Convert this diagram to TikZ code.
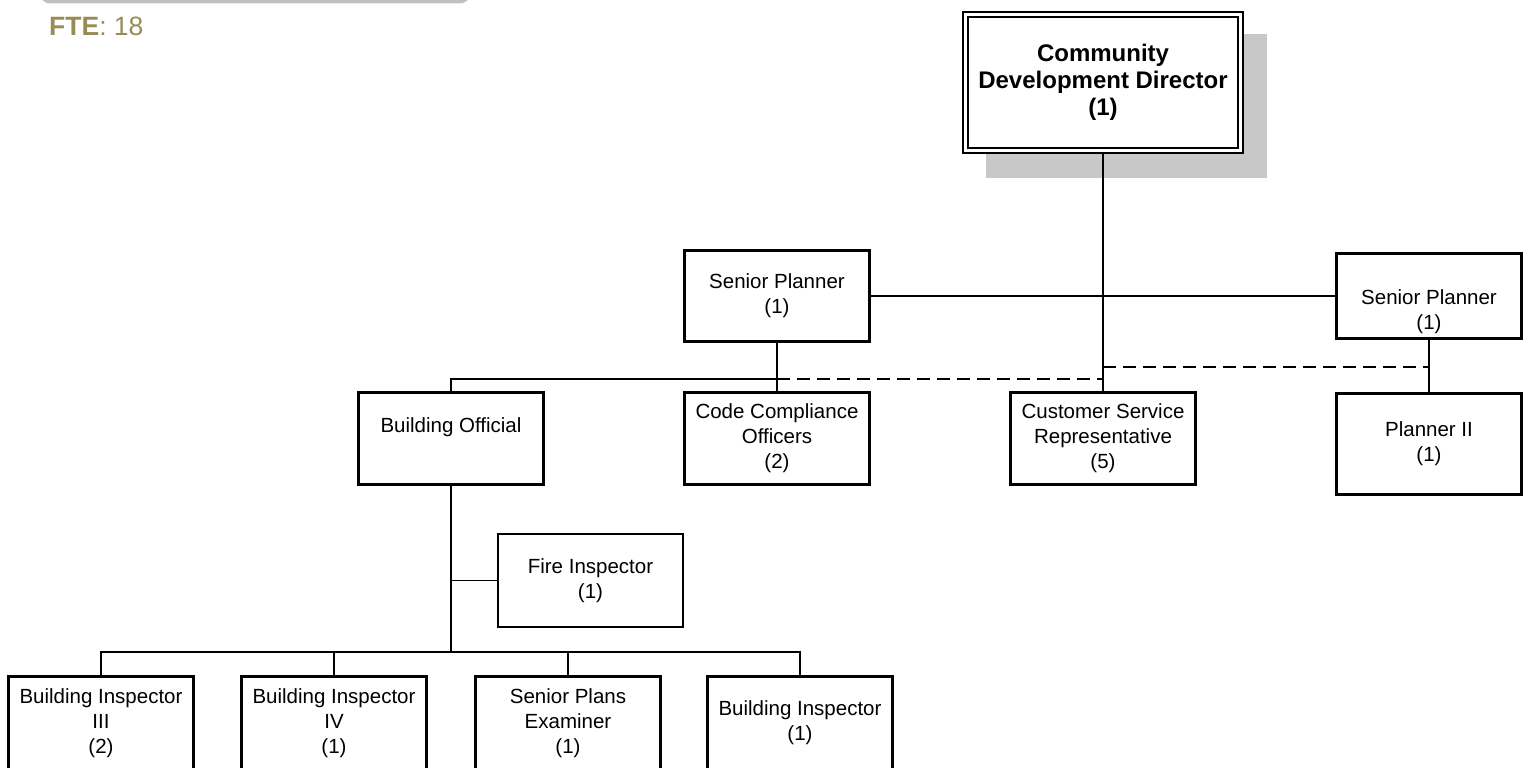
\documentclass[tikz,border=0pt]{standalone}
\usepackage{fontspec}
\setmainfont{Liberation Sans}
\definecolor{fte}{RGB}{152,140,84}
\definecolor{shadowgray}{RGB}{200,200,200}
\definecolor{bargray}{RGB}{192,192,192}
\begin{document}
\begin{tikzpicture}[x=1pt,y=-1pt,
  box/.style={draw, line width=2.6pt, rectangle, fill=white, minimum width=185.5pt, minimum height=92.5pt, inner sep=0pt, align=center, font=\fontsize{20.5}{25}\selectfont},
  thinbox/.style={box, line width=1.6pt},
  dirbox/.style={draw, double, line width=1.8pt, double distance=3pt, rectangle, fill=white, minimum width=275.4pt, minimum height=136.4pt, inner sep=0pt, align=center, font=\fontsize{24}{27}\selectfont\bfseries},
  txt/.style={align=center, inner sep=0pt, font=\fontsize{20.5}{25}\selectfont},
  conn/.style={line width=1.9pt},
  dconn/.style={line width=1.9pt, dash pattern=on 13pt off 7pt}]
\useasboundingbox (0,0) rectangle (1531,768);
\begin{scope}
\clip (0,0) rectangle (1531,768);
% top gray bar
\fill[bargray, rounded corners=10pt] (40,-30) rectangle (470,3.5);
% FTE
\node[anchor=base west, text=fte, font=\fontsize{26.5}{30}\selectfont, inner sep=0pt] (fte) at (49,35.5) {\textbf{FTE}: 18};
% director with shadow
\fill[shadowgray] (986,34) rectangle (1267,178);
\node[dirbox] (dir) at (1103,82.5) {Community\\Development Director\\(1)};
% second row
\node[box, minimum height=91.5pt] (spl) at (777,296) {Senior Planner\\(1)};
\node[box, minimum height=85pt] (spr) at (1429,296) {};
\node[txt] (sprt) at (1429,312) {Senior Planner\\(1)};
% third row
\node[box] (bo) at (451,438.5) {};
\node[txt, anchor=base] (bot) at (451,432) {Building Official};
\node[box] (cc) at (777,438.5) {Code Compliance\\Officers\\(2)};
\node[box] (cs) at (1103,438.5) {Customer Service\\Representative\\(5)};
\node[box, minimum height=101.5pt] (p2) at (1429,444) {Planner II\\(1)};
% fire inspector
\node[thinbox, minimum height=93.5pt] (fi) at (590.5,580.5) {Fire Inspector\\(1)};
% bottom row
\node[box, minimum height=93pt] (bi3) at (101,723) {Building Inspector\\III\\(2)};
\node[box, minimum height=93pt] (bi4) at (334,723) {Building Inspector\\IV\\(1)};
\node[box, minimum height=93pt] (spe) at (568,723) {Senior Plans\\Examiner\\(1)};
\node[box, minimum height=93pt] (bi) at (800,723) {Building Inspector\\(1)};
% coordinates
\coordinate (jl) at (777,379);
\coordinate (jr) at (1103,367);
\coordinate (jb) at (451,652);
% connectors
\draw[conn] (dir.south) -- (cs.north);
\draw[conn] (spl.east) -- (spl.east -| spr.west);
\draw[conn] (spl.south) -- (cc.north);
\draw[conn] (spr.south) -- (p2.north);
\draw[conn] (bo.north) |- (jl);
\draw[dconn] (jl) -- (jl -| cs.north);
\draw[dconn] (jr) -- (jr -| p2.north);
\draw[conn] (bo.south) -- (jb);
\draw[conn] (fi.west) -- (fi.west -| bo.south);
\draw[conn] (bi3.north) |- (jb) -| (bi.north);
\draw[conn] (bi4.north) -- (bi4.north |- jb);
\draw[conn] (spe.north) -- (spe.north |- jb);
\end{scope}
\end{tikzpicture}
\end{document}
